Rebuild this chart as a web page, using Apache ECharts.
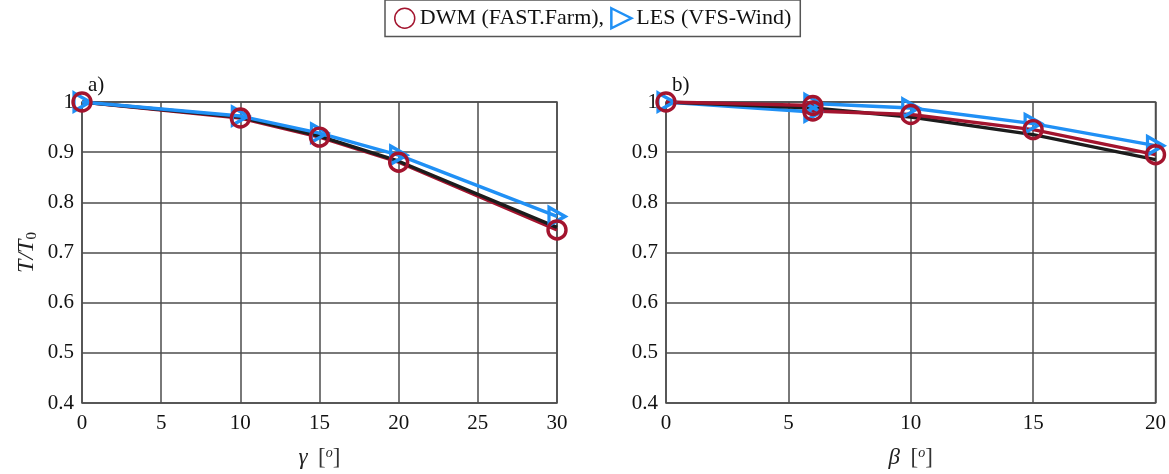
<!DOCTYPE html>
<html><head><meta charset="utf-8">
<script src="https://cdn.jsdelivr.net/npm/echarts@6/dist/echarts.min.js"></script>
<style>html,body{margin:0;padding:0;background:#fff}#c{width:1169px;height:474px}</style>
</head><body><div id="c"></div>
<script>
// Panel a: yaw angle gamma
const gammaX = [0, 10, 15, 20, 30];
const dwmA = [1.0, 0.968, 0.930, 0.880, 0.745];
const lesA = [1.0, 0.972, 0.938, 0.894, 0.772];
const refA = [1.0, 0.970, 0.932, 0.882, 0.750];
// Panel b: tilt angle beta (two runs at beta=6)
const betaDwmX = [0, 6, 6, 10, 15, 20];
const dwmB = [1.0, 0.993, 0.982, 0.975, 0.945, 0.895];
const betaLesX = [0, 6, 6, 10, 15, 20];
const lesB = [1.0, 0.980, 0.997, 0.988, 0.957, 0.913];
const betaRefX = [0, 6, 10, 15, 20];
const refB = [1.0, 0.988, 0.970, 0.935, 0.885];
const yTicks = [0.4, 0.5, 0.6, 0.7, 0.8, 0.9, 1];
const xTicksA = [0, 5, 10, 15, 20, 25, 30];
const xTicksB = [0, 5, 10, 15, 20];

const RED = '#a3142e', BLUE = '#2090f5', BLACK = '#1c1c1c', GRID = '#4d4d4d';
const FONT = 'Liberation Serif';
const TRI = 'path://M0,0 L10,5 L0,10 Z';
const pairs = (xs, ys) => xs.map((x, i) => [x, ys[i]]);

function xAxis(idx, max, ticks, nameRich) {
  return {
    gridIndex: idx, type: 'value', min: 0, max: max, interval: 5,
    axisLine: {show: false}, axisTick: {show: false},
    splitLine: {show: true, lineStyle: {color: GRID, width: 1.5}},
    axisLabel: {fontFamily: FONT, fontSize: 21, color: '#111', margin: 10,
      formatter: v => ticks.includes(v) ? String(v) : ''},
    name: nameRich, nameLocation: 'middle', nameGap: 43,
    nameTextStyle: {fontFamily: FONT, fontSize: 21, color: '#222',
      rich: {g: {fontFamily: FONT, fontStyle: 'italic', fontSize: 23, color: '#222'},
             b: {fontFamily: FONT, fontSize: 23, color: '#333'},
             s: {fontFamily: FONT, fontStyle: 'italic', fontSize: 14, color: '#222', verticalAlign: 'top', padding: [0, 0, 9, 0]}}}
  };
}
function yAxis(idx, withName) {
  const ax = {
    gridIndex: idx, type: 'value', min: 0.4, max: 1.0, interval: 0.1,
    axisLine: {show: false}, axisTick: {show: false},
    splitLine: {show: true, lineStyle: {color: GRID, width: 1.5}},
    axisLabel: {fontFamily: FONT, fontSize: 21, color: '#111', margin: 8,
      formatter: v => { const t = yTicks.find(k => Math.abs(k - v) < 1e-6); return t === undefined ? '' : (t === 1 ? '1' : t.toFixed(1)); }}
  };
  if (withName) {
    ax.name = '{i|T}{n|/}{i|T}{s|0}';
    ax.nameLocation = 'middle';
    ax.nameGap = 42;
    ax.nameTextStyle = {rich: {
      i: {fontFamily: FONT, fontStyle: 'italic', fontSize: 24, color: '#222'},
      n: {fontFamily: FONT, fontStyle: 'italic', fontSize: 24, color: '#222'},
      s: {fontFamily: FONT, fontSize: 15, color: '#222', verticalAlign: 'bottom', padding: [11, 0, 0, 0]}}};
  }
  return ax;
}
function lineSeries(name, idx, data, color, z) {
  return {name: name, type: 'line', xAxisIndex: idx, yAxisIndex: idx, data: data, z: z,
    symbol: 'none', lineStyle: {color: color, width: 3.4}, itemStyle: {color: color},
    silent: true, animation: false};
}
function markerSeries(name, idx, data, color, z, symbol, size) {
  return {name: name, type: 'scatter', xAxisIndex: idx, yAxisIndex: idx, data: data, z: z,
    symbol: symbol, symbolSize: size,
    itemStyle: {color: 'rgba(255,255,255,0)', borderColor: color, borderWidth: 3.4, opacity: 1},
    silent: true, animation: false};
}
const DWM = 'DWM (FAST.Farm),', LES = 'LES (VFS-Wind)';

const option = {
  backgroundColor: '#fff',
  animation: false,
  legend: {
    top: 0, left: 385, padding: [7, 9, 7, 9],
    borderColor: '#555', borderWidth: 1.5, itemGap: 6, itemWidth: 20, itemHeight: 20,
    textStyle: {fontFamily: FONT, fontSize: 22, color: '#111'},
    data: [
      {name: DWM, icon: 'circle', itemStyle: {color: '#fff', borderColor: RED, borderWidth: 1.5}},
      {name: LES, icon: TRI, itemStyle: {color: '#fff', borderColor: BLUE, borderWidth: 2.5}}
    ]
  },
  grid: [
    {left: 82, right: 612, top: 102, bottom: 68, show: true, borderColor: GRID, borderWidth: 1.5},
    {left: 666, right: 12, top: 102, bottom: 68, show: true, borderColor: GRID, borderWidth: 1.5}
  ],
  xAxis: [
    xAxis(0, 30, xTicksA, '{g|γ}  {b|[}{s|o}{b|]}'),
    xAxis(1, 20, xTicksB, '{g|β}  {b|[}{s|o}{b|]}')
  ],
  yAxis: [yAxis(0, true), yAxis(1, false)],
  graphic: [
    {type: 'text', left: 88, top: 75, style: {text: 'a)', font: '21px "Liberation Serif"', fill: '#111'}},
    {type: 'text', left: 672, top: 75, style: {text: 'b)', font: '21px "Liberation Serif"', fill: '#111'}}
  ],
  series: [
    lineSeries(DWM, 0, pairs(gammaX, dwmA), RED, 2),
    lineSeries('ref', 0, pairs(gammaX, refA), BLACK, 3),
    lineSeries(LES, 0, pairs(gammaX, lesA), BLUE, 4),
    markerSeries(LES, 0, pairs(gammaX, lesA), BLUE, 5, TRI, [16, 18]),
    markerSeries(DWM, 0, pairs(gammaX, dwmA), RED, 6, 'circle', 18),
    lineSeries(LES, 1, pairs(betaLesX, lesB), BLUE, 2),
    lineSeries('ref', 1, pairs(betaRefX, refB), BLACK, 3),
    lineSeries(DWM, 1, pairs(betaDwmX, dwmB), RED, 4),
    markerSeries(LES, 1, pairs(betaLesX, lesB), BLUE, 5, TRI, [16, 18]),
    markerSeries(DWM, 1, pairs(betaDwmX, dwmB), RED, 6, 'circle', 18)
  ]
};
const chart = echarts.init(document.getElementById('c'), null, {renderer: 'canvas'});
chart.setOption(option);
</script></body></html>
